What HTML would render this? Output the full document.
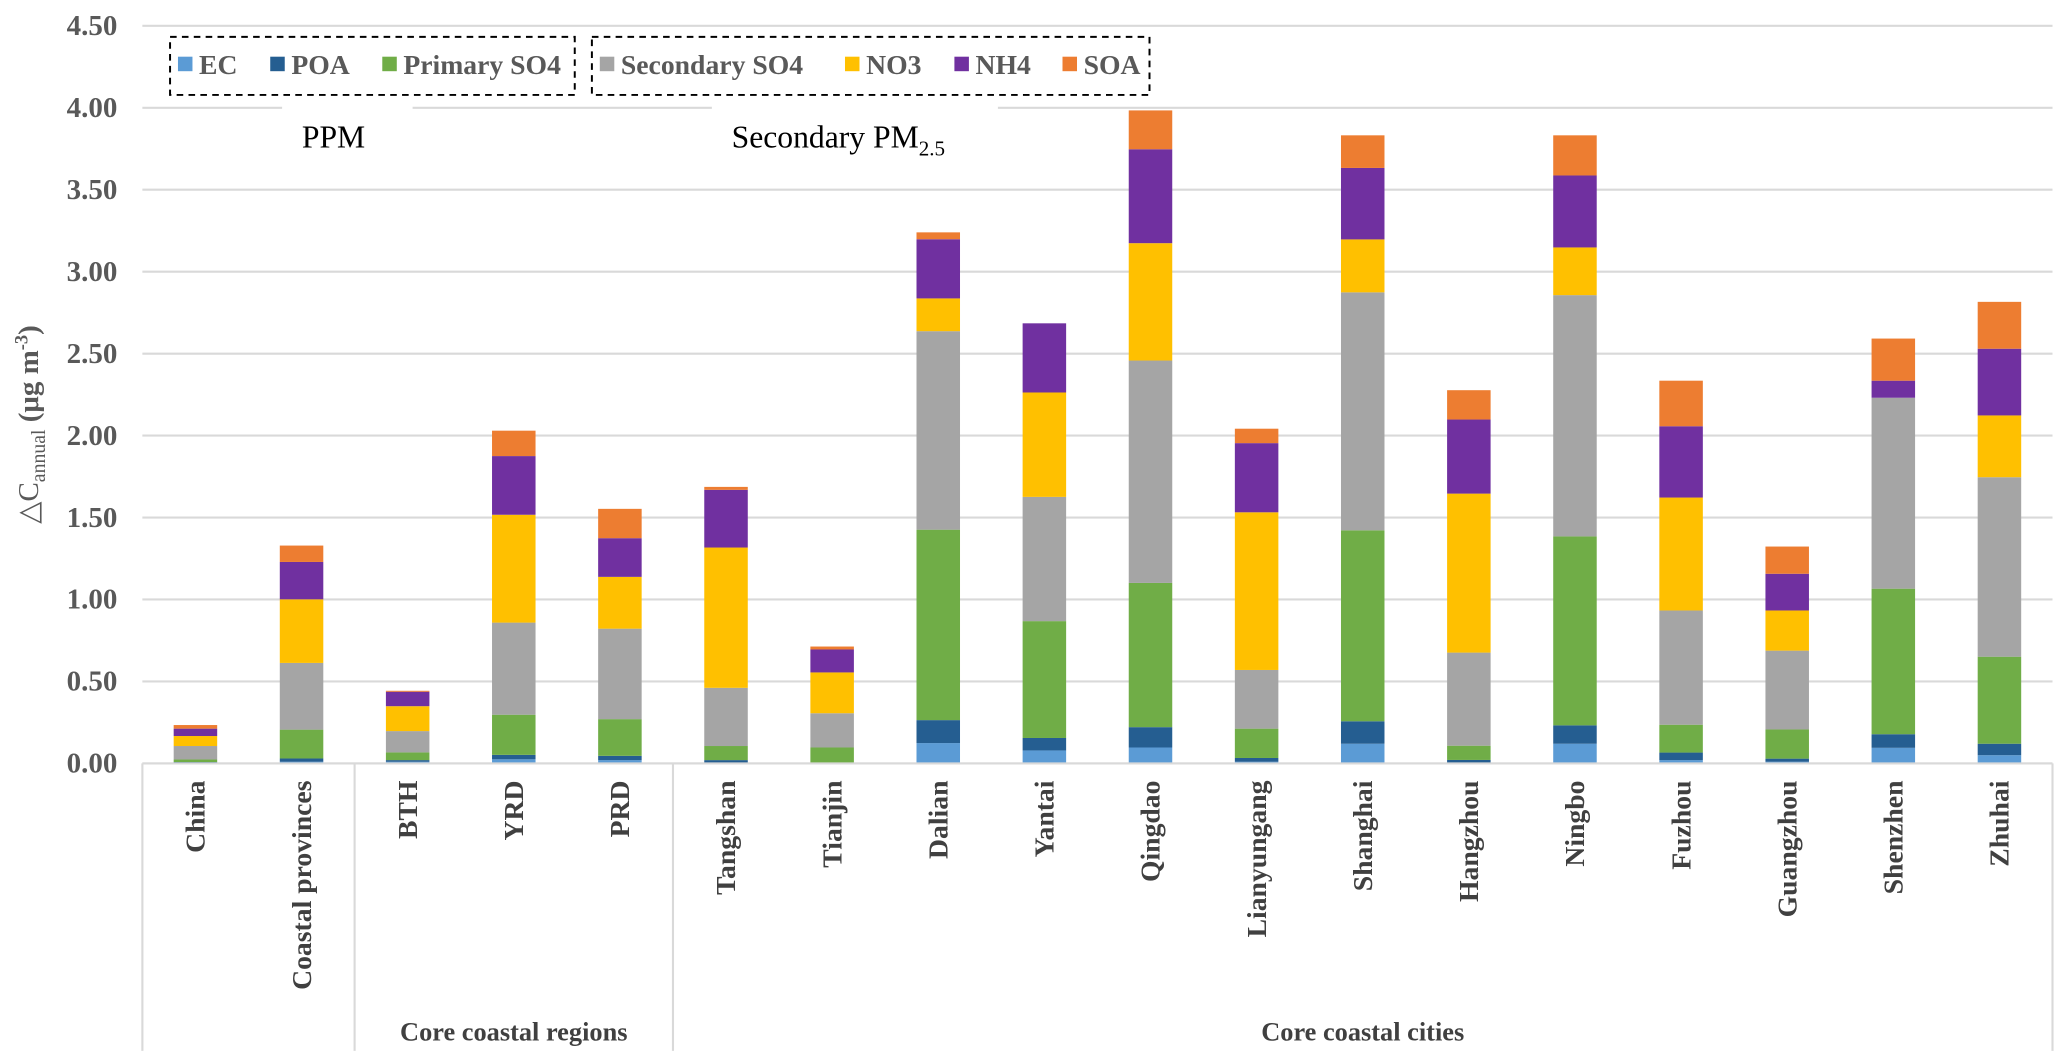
<!DOCTYPE html>
<html><head><meta charset="utf-8">
<style>
html,body{margin:0;padding:0;background:#fff;}
svg{display:block;font-family:"Liberation Serif","Times New Roman",serif;}
</style></head>
<body>
<svg id="chart" width="2067" height="1064" viewBox="0 0 1568 807" preserveAspectRatio="none" xmlns="http://www.w3.org/2000/svg">
<g id="grid"></g>
<g id="yticks"></g>
<text transform="translate(29,322) rotate(-90)" text-anchor="middle" font-size="22" fill="#595959">△C<tspan font-size="15" dy="5">annual</tspan><tspan dy="-5" font-weight="bold"> (μg m</tspan><tspan font-size="14" dy="-8" font-weight="bold">-3</tspan><tspan dy="8" font-weight="bold">)</tspan></text>
<g id="bars"></g>
<g id="axis"></g>
<rect x="214" y="76" width="99" height="12" fill="#fff"/>
<rect x="540" y="76" width="217" height="12" fill="#fff"/>
<text x="253" y="112" text-anchor="middle" font-size="24" fill="#000">PPM</text>
<text x="555" y="112" font-size="24" fill="#000">Secondary PM<tspan font-size="16" dy="6">2.5</tspan></text>
<rect x="129" y="28" width="307" height="44" fill="#fff" stroke="#000" stroke-width="1.5" stroke-dasharray="5,4"/>
<rect x="449" y="28" width="423" height="44" fill="#fff" stroke="#000" stroke-width="1.5" stroke-dasharray="5,4"/>
<g id="legend"></g>
</svg>
<script>
const categories = ["China","Coastal provinces","BTH","YRD","PRD","Tangshan","Tianjin","Dalian","Yantai","Qingdao","Lianyungang","Shanghai","Hangzhou","Ningbo","Fuzhou","Guangzhou","Shenzhen","Zhuhai"];
const seriesNames = ["EC","POA","Primary SO4","Secondary SO4","NO3","NH4","SOA"];
const seriesColors = ["#5B9BD5","#255E91","#70AD47","#A5A5A5","#FFC000","#7030A0","#ED7D31"];
const ecVals   = [0.003,0.01,0.01,0.025,0.02,0.005,0,0.124,0.079,0.097,0.01,0.12,0.005,0.12,0.02,0.01,0.095,0.05];
const poaVals  = [0.005,0.02,0.01,0.027,0.026,0.015,0.005,0.14,0.076,0.124,0.023,0.137,0.016,0.112,0.046,0.019,0.083,0.07];
const pso4Vals = [0.016,0.176,0.047,0.245,0.224,0.086,0.092,1.162,0.713,0.88,0.179,1.165,0.087,1.153,0.17,0.178,0.888,0.531];
const sso4Vals = [0.082,0.407,0.13,0.562,0.552,0.355,0.209,1.211,0.758,1.357,0.358,1.452,0.568,1.472,0.697,0.481,1.165,1.095];
const no3Vals  = [0.061,0.388,0.152,0.658,0.316,0.856,0.249,0.2,0.637,0.716,0.962,0.323,0.97,0.291,0.689,0.245,0,0.377];
const nh4Vals  = [0.045,0.228,0.088,0.358,0.236,0.352,0.14,0.361,0.422,0.573,0.422,0.436,0.452,0.439,0.435,0.224,0.104,0.407];
const soaVals  = [0.022,0.1,0.006,0.155,0.179,0.018,0.018,0.042,0,0.237,0.088,0.199,0.179,0.245,0.278,0.166,0.257,0.286];
const yTicks = [0,0.5,1,1.5,2,2.5,3,3.5,4,4.5];
const yTickLabels = ["0.00","0.50","1.00","1.50","2.00","2.50","3.00","3.50","4.00","4.50"];
const groupNames = ["Core coastal regions","Core coastal cities"];
const groupStart = [2,5];
const groupEnd = [5,18];

const NS="http://www.w3.org/2000/svg";
const L=108,R=1557,B=579,T=19.6,YMAX=4.5;
const band=(R-L)/categories.length;
function y(v){return B-(v/YMAX)*(B-T);}
function xc(i){return L+band*(i+0.5);}
function mk(tag,attrs,parent){const e=document.createElementNS(NS,tag);for(const k in attrs)e.setAttribute(k,attrs[k]);parent.appendChild(e);return e;}

const grid=document.getElementById('grid'),yt=document.getElementById('yticks');
yTicks.forEach((t,i)=>{
  const ln=mk('line',{x1:L,x2:R,y1:y(t),y2:y(t),stroke:'#D9D9D9','stroke-width':1.6},grid);
  
  
  const tx=mk('text',{x:89,y:y(t)+7,'text-anchor':'end','font-size':22,'font-weight':'bold',fill:'#595959'},yt);
  tx.textContent=yTickLabels[i];
  
  
});

const series=[ecVals,poaVals,pso4Vals,sso4Vals,no3Vals,nh4Vals,soaVals];
const bars=document.getElementById('bars');
const bw=band*0.41;
categories.forEach((c,i)=>{
  let acc=0;
  series.forEach((s,k)=>{
    const v=s[i]; if(v<=0) return;
    const r=mk('rect',{x:xc(i)-bw/2,y:y(acc+v),width:bw,height:y(acc)-y(acc+v),fill:seriesColors[k]},bars);
    
    
    acc+=v;
  });
});

const ax=document.getElementById('axis');
const seps=[0,2,5,18];
seps.forEach(s=>{
  const ln=mk('line',{x1:L+band*s,x2:L+band*s,y1:B,y2:797,stroke:'#D9D9D9','stroke-width':1.6},ax);
  
  
});
const base=mk('line',{x1:L,x2:R,y1:B,y2:B,stroke:'#D9D9D9','stroke-width':1.6},ax);


categories.forEach((c,i)=>{
  const t=mk('text',{transform:`translate(${xc(i)+7},592) rotate(-90)`,'text-anchor':'end','font-size':21,'font-weight':'bold',fill:'#404040'},ax);
  t.textContent=c;
  
  
});
groupNames.forEach((g,i)=>{
  const cx=L+band*(groupStart[i]+groupEnd[i])/2;
  const t=mk('text',{x:cx,y:789,'text-anchor':'middle','font-size':20,'font-weight':'bold',fill:'#404040'},ax);
  t.textContent=g;
  
  
});

const legend=document.getElementById('legend');
const legSq=[135,205,290,455,641,724,806];
seriesNames.forEach((n,k)=>{
  const r=mk('rect',{x:legSq[k],y:43,width:11,height:11,fill:seriesColors[k]},legend);
  
  
  const t=mk('text',{x:legSq[k]+16,y:56,'font-size':21,'font-weight':'bold',fill:'#595959'},legend);
  t.textContent=n;
  
  
});
</script>
</body></html>
